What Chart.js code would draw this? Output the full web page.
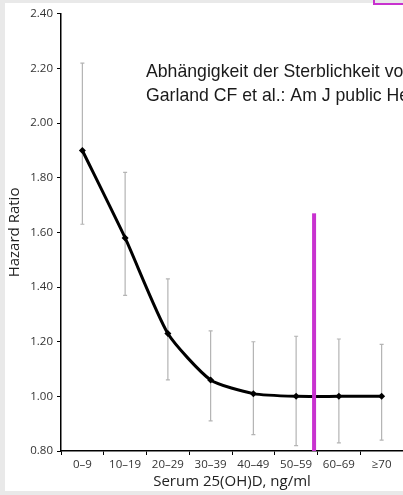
<!DOCTYPE html>
<html>
<head>
<meta charset="utf-8">
<script src="https://cdn.jsdelivr.net/npm/chart.js@4"></script>
<style>
  html, body { margin: 0; padding: 0; }
  body { width: 403px; height: 495px; background: #e9e9e9; position: relative; overflow: hidden; }
  #panel { position: absolute; left: 5px; top: 3px; width: 398px; height: 488px; background: #fff; }
  #corner { position: absolute; left: 373px; top: -8px; width: 40px; height: 11px;
            border-left: 2px solid #c832cf; border-bottom: 2px solid #c832cf; }
</style>
</head>
<body>
<div id="panel"><canvas id="hrChart" width="398" height="488"></canvas></div>
<div id="corner"></div>
<script>
// SERUM 25(OH)D GROUPS
const categories = ['0–9', '10–19', '20–29', '30–39', '40–49', '50–59', '60–69', '≥70'];
const hazardRatio = [1.90, 1.58, 1.23, 1.06, 1.01, 1.00, 1.00, 1.00];
const upperCI = [2.22, 1.82, 1.43, 1.24, 1.20, 1.22, 1.21, 1.19];
const lowerCI = [1.63, 1.37, 1.06, 0.91, 0.86, 0.82, 0.83, 0.84];
const yTicks = [0.8, 1.0, 1.2, 1.4, 1.6, 1.8, 2.0, 2.2, 2.4];

// MAGENTA MARKER (between 50-59 and 60-69)
const markerIndex = 5.42;
const markerTop = 1.67;

const noteLines = [
  'Abhängigkeit der Sterblichkeit von Vitamin D',
  'Garland CF et al.: Am J public Health'
];

const errorBars = {
  id: 'errorBars',
  beforeDatasetsDraw(chart) {
    const { ctx, scales: { x, y } } = chart;
    ctx.save();
    ctx.strokeStyle = '#b4b4b4';
    ctx.lineWidth = 1.2;
    categories.forEach((c, i) => {
      const px = x.getPixelForValue(i);
      const top = y.getPixelForValue(upperCI[i]);
      const bot = y.getPixelForValue(lowerCI[i]);
      ctx.beginPath();
      ctx.moveTo(px, top);
      ctx.lineTo(px, bot);
      ctx.moveTo(px - 2, top);
      ctx.lineTo(px + 2, top);
      ctx.moveTo(px - 2, bot);
      ctx.lineTo(px + 2, bot);
      ctx.stroke();
    });
    ctx.restore();
  }
};

const overlay = {
  id: 'overlay',
  afterDraw(chart) {
    const { ctx, scales: { x, y } } = chart;
    const step = x.getPixelForValue(1) - x.getPixelForValue(0);
    const mx = x.getPixelForValue(5) + (markerIndex - 5) * step;
    ctx.save();
    ctx.fillStyle = '#c832cf';
    ctx.fillRect(mx - 2, y.getPixelForValue(markerTop), 4,
      y.getPixelForValue(0.8) - y.getPixelForValue(markerTop));

    // NOTE TEXT
    ctx.fillStyle = '#1a1a1a';
    ctx.font = '19px "Liberation Sans", Arial, sans-serif';
    ctx.textBaseline = 'alphabetic';
    ctx.translate(141, 0);
    ctx.scale(0.93, 1);
    ctx.fillText(noteLines[0], 0, 74);
    ctx.fillText(noteLines[1], 0, 98);
    ctx.restore();
  }
};

new Chart(document.getElementById('hrChart'), {
  type: 'line',
  data: {
    labels: categories,
    datasets: [{
      data: hazardRatio,
      borderColor: '#000',
      borderWidth: 3,
      pointStyle: 'rectRot',
      pointRadius: 3.5,
      pointBackgroundColor: '#000',
      pointBorderColor: '#000',
      pointBorderWidth: 0,
      tension: 0.2,
    }],
  },
  options: {
    responsive: false,
    animation: false,
    layout: { autoPadding: false, padding: { left: 0, right: 0, top: 8, bottom: 0 } },
    plugins: { legend: { display: false }, tooltip: { enabled: false } },
    scales: {
      x: {
        offset: true,
        afterFit: (s) => { s.height = 40; },
        grid: { offset: true, drawOnChartArea: false, color: '#000', tickLength: 4, tickWidth: 1 },
        border: { color: '#000', width: 1.5 },
        ticks: { color: '#333', padding: 3, font: { family: '"Open Sans"', size: 11.5 } },
        title: {
          display: true,
          text: 'Serum 25(OH)D, ng/ml',
          color: '#222',
          padding: 0,
          font: { family: '"Open Sans"', size: 15, lineHeight: 1.2 }
        }
      },
      y: {
        min: 0.8,
        max: 2.4,
        afterFit: (s) => { s.width = 56; },
        afterBuildTicks: (s) => { s.ticks = yTicks.map((v) => ({ value: v })); },
        grid: { drawOnChartArea: false, color: '#000', tickLength: 4, tickWidth: 1 },
        border: { color: '#000', width: 1.5 },
        ticks: {
          color: '#333',
          padding: 4,
          font: { family: '"Open Sans"', size: 11.5 },
          callback: (v) => Number(v).toFixed(2)
        },
        title: {
          display: true,
          text: 'Hazard Ratio',
          color: '#222',
          padding: { top: 1, bottom: 0 },
          font: { family: '"Open Sans"', size: 15, lineHeight: 1.2 }
        }
      }
    }
  },
  plugins: [errorBars, overlay]
});
</script>
</body>
</html>
